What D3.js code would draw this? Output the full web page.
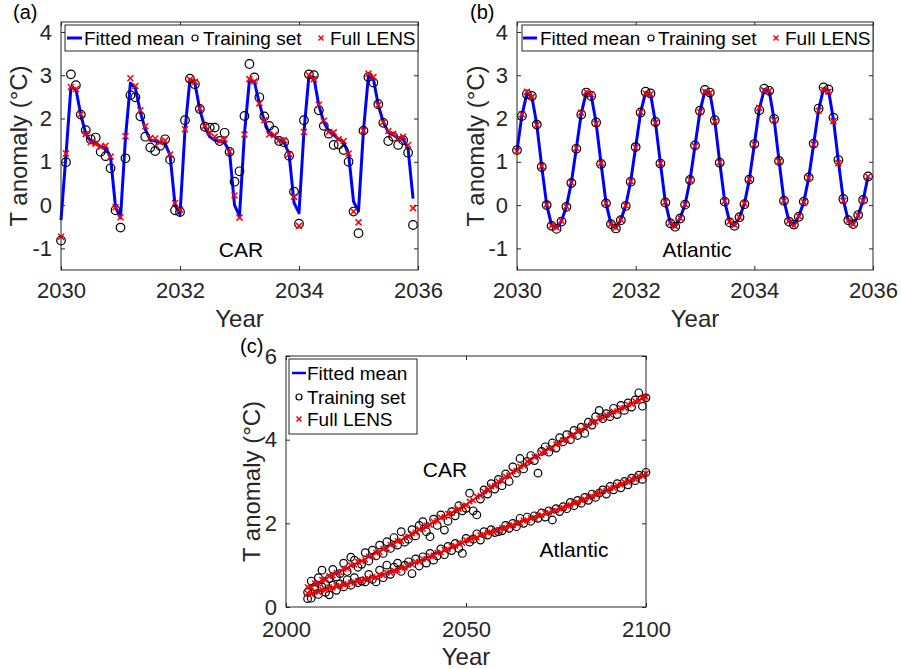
<!DOCTYPE html>
<html><head><meta charset="utf-8">
<script src="https://cdn.jsdelivr.net/npm/d3@7"></script>
<style>
html,body{margin:0;padding:0;background:#fff;}
svg text{font-family:"Liberation Sans",Arial,Helvetica,sans-serif;}
</style></head>
<body><svg id="chart" width="901" height="669"></svg>
<script>
// ---------- DATA ----------
// Panels (a),(b): monthly values Jan 2030 .. Dec 2035
const monthStart = 2030;
const carFit = [
 -0.35,1.15,2.72,2.68,2.08,1.65,1.47,1.42,1.35,1.33,1.10,-0.05,
 -0.30,1.55,2.82,2.70,2.15,1.75,1.50,1.48,1.44,1.42,1.15,0.00,
 -0.22,1.72,2.90,2.82,2.20,1.80,1.58,1.50,1.48,1.45,1.22,0.00,
 -0.25,1.65,2.88,2.85,2.35,1.95,1.65,1.60,1.50,1.45,1.18,0.05,
 -0.18,1.70,2.98,2.95,2.30,1.92,1.70,1.62,1.52,1.45,1.18,0.08,
 -0.14,1.72,2.98,2.92,2.30,1.92,1.68,1.62,1.55,1.52,1.30,0.15];
const carTrain = [
 -0.82,0.99,3.02,2.77,2.09,1.73,1.52,1.56,1.23,1.13,0.85,-0.12,
 -0.52,1.08,2.54,2.49,2.05,1.58,1.33,1.25,1.37,1.52,1.05,-0.12,
 -0.16,1.96,2.92,2.79,2.22,1.81,1.79,1.79,1.48,1.67,1.23,0.54,
 0.78,2.06,3.26,2.95,2.49,2.05,1.83,1.72,1.48,1.45,1.14,0.31,
 -0.43,1.96,3.02,3.00,2.19,1.83,1.65,1.39,1.40,1.27,1.00,-0.15,
 -0.65,1.72,2.96,2.83,2.33,1.90,1.48,1.58,1.39,1.50,1.21,-0.46];
const carLens = [
 -0.73,1.19,2.73,2.68,2.10,1.64,1.45,1.42,1.35,1.37,1.12,-0.05,
 -0.28,1.59,2.93,2.75,2.19,1.82,1.55,1.54,1.45,1.49,1.17,0.05,
 -0.10,1.75,2.90,2.85,2.23,1.83,1.68,1.58,1.48,1.52,1.24,0.22,
 -0.29,1.63,2.91,2.86,2.35,1.96,1.63,1.62,1.50,1.50,1.18,0.19,
 -0.48,1.69,3.00,2.91,2.32,1.95,1.69,1.68,1.52,1.48,1.19,-0.15,
 -0.40,1.72,3.04,2.96,2.31,1.92,1.71,1.65,1.54,1.58,1.39,-0.07];
const atlFitM = [
 1.26,2.08,2.58,2.51,1.86,0.89,0.01,-0.47,-0.53,-0.37,-0.03,0.52,
 1.31,2.12,2.60,2.54,1.90,0.96,0.05,-0.44,-0.53,-0.34,-0.01,0.55,
 1.34,2.14,2.60,2.57,1.91,0.97,0.07,-0.41,-0.50,-0.30,0.02,0.58,
 1.37,2.16,2.64,2.60,1.95,0.99,0.09,-0.39,-0.47,-0.28,0.03,0.60,
 1.40,2.22,2.67,2.64,1.98,1.02,0.10,-0.37,-0.46,-0.26,0.07,0.63,
 1.41,2.20,2.69,2.65,1.98,1.01,0.12,-0.36,-0.44,-0.24,0.11,0.66];
const atlTrainM = [
 1.27,2.06,2.56,2.52,1.86,0.88,0.00,-0.48,-0.55,-0.38,-0.04,0.51,
 1.30,2.09,2.60,2.52,1.91,0.95,0.04,-0.44,-0.54,-0.35,-0.02,0.54,
 1.34,2.14,2.62,2.58,1.92,0.96,0.06,-0.42,-0.50,-0.31,0.01,0.58,
 1.38,2.18,2.66,2.60,1.96,0.98,0.08,-0.40,-0.48,-0.28,0.02,0.59,
 1.41,2.19,2.69,2.64,1.99,1.02,0.10,-0.38,-0.45,-0.27,0.08,0.64,
 1.42,2.23,2.72,2.67,2.02,1.04,0.14,-0.35,-0.44,-0.23,0.12,0.66];
const atlLensM = [
 1.25,2.10,2.62,2.50,1.85,0.90,0.01,-0.47,-0.52,-0.36,-0.03,0.52,
 1.32,2.14,2.62,2.56,1.88,0.97,0.05,-0.44,-0.52,-0.34,-0.01,0.55,
 1.33,2.15,2.58,2.56,1.90,0.97,0.07,-0.41,-0.49,-0.30,0.02,0.58,
 1.36,2.15,2.62,2.59,1.93,0.99,0.09,-0.38,-0.46,-0.28,0.04,0.60,
 1.40,2.25,2.65,2.64,1.96,1.01,0.10,-0.37,-0.47,-0.26,0.07,0.63,
 1.40,2.18,2.66,2.62,1.94,0.97,0.10,-0.36,-0.44,-0.24,0.10,0.66];

// Panel (c): annual values 2006 .. 2100
const yearStart = 2006;
const carFitY = [
 0.45,0.50,0.54,0.58,0.63,0.67,0.72,0.76,0.80,0.85,
 0.89,0.93,0.98,1.02,1.06,1.11,1.15,1.19,1.24,1.28,
 1.33,1.37,1.42,1.47,1.51,1.56,1.60,1.65,1.70,1.74,
 1.79,1.84,1.88,1.93,1.98,2.02,2.07,2.12,2.16,2.21,
 2.26,2.30,2.35,2.40,2.44,2.50,2.56,2.62,2.68,2.74,
 2.80,2.86,2.92,2.98,3.04,3.10,3.16,3.22,3.28,3.34,
 3.40,3.46,3.52,3.57,3.62,3.67,3.72,3.77,3.82,3.87,
 3.92,3.97,4.02,4.08,4.13,4.18,4.24,4.29,4.34,4.40,
 4.45,4.49,4.53,4.57,4.61,4.65,4.69,4.74,4.78,4.82,
 4.86,4.90,4.94,4.98,5.03];
const carLensY = [
 0.48,0.47,0.57,0.56,0.65,0.66,0.74,0.75,0.82,0.83,
 0.91,0.92,1.00,1.01,1.08,1.10,1.13,1.21,1.22,1.30,
 1.31,1.39,1.40,1.49,1.50,1.58,1.58,1.67,1.68,1.76,
 1.78,1.86,1.87,1.95,1.96,2.04,2.06,2.14,2.15,2.23,
 2.24,2.32,2.34,2.41,2.43,2.52,2.55,2.64,2.66,2.76,
 2.79,2.88,2.90,3.00,3.02,3.12,3.15,3.24,3.26,3.36,
 3.38,3.48,3.50,3.59,3.60,3.69,3.71,3.79,3.80,3.89,
 3.90,3.99,4.00,4.10,4.11,4.20,4.23,4.31,4.32,4.42,
 4.43,4.51,4.52,4.59,4.60,4.67,4.68,4.76,4.76,4.84,
 4.85,4.92,4.93,5.00,5.02];
const carTrainY = [
 0.35,0.62,0.48,0.70,0.88,0.55,0.68,0.90,0.72,0.80,
 1.05,0.85,1.19,1.12,0.95,1.02,1.30,1.10,1.36,1.22,
 1.48,1.28,1.56,1.40,1.66,1.48,1.80,1.55,1.62,1.85,
 1.70,1.95,2.04,1.80,1.68,2.10,1.95,2.20,1.84,2.05,
 2.28,2.18,2.42,2.30,2.36,2.72,2.30,2.20,2.58,2.80,
 2.70,2.95,2.82,3.05,2.90,3.18,3.00,3.35,3.20,3.55,
 3.30,3.48,3.62,3.50,3.20,3.72,3.83,3.70,3.92,3.80,
 4.05,3.95,4.12,4.00,4.22,4.10,4.30,4.15,4.42,4.35,
 4.55,4.70,4.50,4.62,4.55,4.75,4.60,4.82,4.70,4.88,
 4.78,4.95,5.12,4.80,5.00];
const atlFitY = [
 0.30,0.32,0.35,0.37,0.40,0.42,0.45,0.47,0.49,0.51,
 0.53,0.55,0.57,0.59,0.61,0.63,0.65,0.68,0.70,0.72,
 0.75,0.77,0.80,0.83,0.85,0.88,0.92,0.95,0.99,1.02,
 1.06,1.09,1.13,1.16,1.20,1.24,1.28,1.31,1.35,1.39,
 1.43,1.47,1.50,1.54,1.58,1.61,1.64,1.67,1.70,1.73,
 1.76,1.79,1.82,1.84,1.87,1.90,1.93,1.96,1.99,2.02,
 2.05,2.08,2.11,2.14,2.17,2.20,2.23,2.26,2.28,2.31,
 2.34,2.37,2.40,2.44,2.47,2.51,2.54,2.58,2.61,2.65,
 2.68,2.72,2.75,2.79,2.82,2.86,2.89,2.93,2.97,3.00,
 3.04,3.07,3.11,3.14,3.18];
const atlLensY = [
 0.33,0.31,0.37,0.36,0.42,0.41,0.47,0.46,0.51,0.50,
 0.55,0.54,0.59,0.58,0.63,0.62,0.67,0.67,0.72,0.71,
 0.77,0.76,0.82,0.82,0.87,0.87,0.94,0.94,1.01,1.01,
 1.08,1.08,1.15,1.15,1.22,1.23,1.30,1.30,1.37,1.38,
 1.45,1.46,1.52,1.53,1.60,1.60,1.66,1.66,1.72,1.72,
 1.78,1.78,1.84,1.83,1.89,1.89,1.95,1.95,2.01,2.01,
 2.07,2.07,2.13,2.13,2.19,2.19,2.25,2.25,2.30,2.30,
 2.36,2.36,2.42,2.43,2.49,2.50,2.56,2.57,2.63,2.64,
 2.70,2.71,2.77,2.78,2.84,2.85,2.91,2.92,2.99,2.99,
 3.06,3.06,3.13,3.13,3.19];
const atlTrainY = [
 0.20,0.21,0.42,0.30,0.48,0.35,0.29,0.52,0.40,0.55,
 0.48,0.65,0.52,0.70,0.58,0.62,0.60,0.78,0.66,0.60,
 0.88,0.70,1.00,0.78,0.95,1.05,0.85,1.00,1.08,0.80,
 1.15,0.98,1.20,1.05,1.28,1.12,1.22,1.39,1.25,1.45,
 1.35,1.52,1.40,1.28,1.64,1.55,1.62,1.75,1.60,1.80,
 1.72,1.85,1.78,1.80,1.82,1.95,1.88,2.00,1.92,2.12,
 2.00,2.15,2.05,2.18,2.12,2.25,2.15,2.30,2.08,2.35,
 2.28,2.40,2.35,2.50,2.42,2.55,2.48,2.62,2.55,2.70,
 2.62,2.72,2.80,2.70,2.88,2.80,2.95,2.85,3.00,2.92,
 3.08,3.02,3.15,3.05,3.22];

// ticks & labels
const xTicksAB = [2030, 2032, 2034, 2036];
const yTicksAB = [-1, 0, 1, 2, 3, 4];
const xTicksC = [2000, 2050, 2100];
const yTicksC = [0, 2, 4, 6];
const legendLabels = ["Fitted mean", "Training set", "Full LENS"];
const yLabel = "T anomaly (\u00B0C)";
const xLabel = "Year";

// ---------- DRAWING ----------
const svg = d3.select("#chart");
const AX = "#262626";
const FONT = '"Liberation Sans",Arial,Helvetica,sans-serif';

function toPts(start, step, vals){ return vals.map((v,i)=>({t:start+i*step, v:v})); }

function crossPath(s){ return `M${-s},${-s}L${s},${s}M${-s},${s}L${s},${-s}`; }

function panel(o){
  const x = d3.scaleLinear().domain(o.xdom).range([o.x0, o.x1]);
  const y = d3.scaleLinear().domain(o.ydom).range([o.y1, o.y0]);
  const g = svg.append("g");
  const line = d3.line().x(d=>x(d.t)).y(d=>y(d.v));
  o.series.forEach(s=>{
    g.append("path").datum(s.fit).attr("d", line)
      .attr("fill","none").attr("stroke","#0000ff").attr("stroke-width",o.lw)
      .attr("stroke-linejoin","round");
  });
  o.series.forEach(s=>{
    g.append("g").selectAll("circle").data(s.train).join("circle")
      .attr("cx",d=>x(d.t)).attr("cy",d=>y(d.v)).attr("r",o.r)
      .attr("fill","none").attr("stroke","#000").attr("stroke-width",1.2);
  });
  o.series.forEach(s=>{
    g.append("g").selectAll("path").data(s.lens).join("path")
      .attr("transform",d=>`translate(${x(d.t)},${y(d.v)})`)
      .attr("d",crossPath(o.cs)).attr("stroke","#ff0000").attr("stroke-width",1.5)
      .attr("fill","none");
  });
  const fmt = d => String(d);
  const styleAxis = sel=>{
    sel.select(".domain").remove();
    sel.selectAll(".tick line").attr("stroke",AX);
    sel.selectAll(".tick text").attr("fill",AX).style("font-size","22px").style("font-family",FONT);
  };
  svg.append("g").attr("transform",`translate(0,${o.y1})`)
    .call(d3.axisBottom(x).tickValues(o.xt).tickFormat(fmt).tickSize(-4).tickPadding(o.xpad)).call(styleAxis);
  svg.append("g").attr("transform",`translate(0,${o.y0})`)
    .call(d3.axisTop(x).tickValues(o.xt).tickFormat("").tickSize(-4)).call(styleAxis);
  svg.append("g").attr("transform",`translate(${o.x0},0)`)
    .call(d3.axisLeft(y).tickValues(o.yt).tickFormat(fmt).tickSize(-4).tickPadding(9)).call(styleAxis);
  svg.append("g").attr("transform",`translate(${o.x1},0)`)
    .call(d3.axisRight(y).tickValues(o.yt).tickFormat("").tickSize(-4)).call(styleAxis);
  svg.append("rect").attr("x",o.x0).attr("y",o.y0).attr("width",o.x1-o.x0).attr("height",o.y1-o.y0)
    .attr("fill","none").attr("stroke",AX).attr("stroke-width",1);
  svg.append("text").attr("x",(o.x0+o.x1)/2).attr("y",o.xlabY).attr("text-anchor","middle")
    .style("font-size","24px").attr("fill",AX).text(xLabel);
  svg.append("text").attr("transform",`translate(${o.ylabX},${(o.y0+o.y1)/2}) rotate(-90)`)
    .attr("text-anchor","middle").style("font-size","24px").attr("fill",AX).text(yLabel);
  svg.append("text").attr("x",o.tagX).attr("y",o.tagY).style("font-size","20px").attr("fill","#000").text(o.tag);
  o.notes.forEach(n=>{
    svg.append("text").attr("x",n.x).attr("y",n.y).attr("text-anchor","middle")
      .style("font-size","21px").attr("fill","#000").text(n.text);
  });
  return {x,y};
}

function legendH(lx, ly, lw, items){
  const lg = svg.append("g");
  lg.append("rect").attr("x",lx).attr("y",ly).attr("width",lw).attr("height",26)
    .attr("fill","#fff").attr("stroke",AX).attr("stroke-width",1);
  const cy = ly+13;
  lg.append("line").attr("x1",items.line[0]).attr("x2",items.line[1]).attr("y1",cy).attr("y2",cy)
    .attr("stroke","#0000ff").attr("stroke-width",3);
  lg.append("circle").attr("cx",items.circ).attr("cy",cy).attr("r",3).attr("fill","none").attr("stroke","#000").attr("stroke-width",1.2);
  lg.append("path").attr("transform",`translate(${items.cross},${cy})`).attr("d",crossPath(2.5))
    .attr("stroke","#ff0000").attr("stroke-width",1.5);
  items.text.forEach((tx,i)=>{
    lg.append("text").attr("x",tx).attr("y",cy+7).style("font-size","19px").attr("fill","#000").text(legendLabels[i]);
  });
}

// Panel (a)
panel({x0:61,x1:418,y0:22,y1:270,xdom:[2030,2036],ydom:[-1.5,4.23],xt:xTicksAB,yt:yTicksAB,
  lw:3,r:4.3,cs:3,xpad:12,xlabY:327,ylabX:27,tag:"(a)",tagX:13,tagY:19,
  notes:[{x:241,y:257,text:"CAR"}],
  series:[{fit:toPts(monthStart,1/12,carFit),train:toPts(monthStart,1/12,carTrain),lens:toPts(monthStart,1/12,carLens)}]});
legendH(65,25,353,{line:[67,82],circ:195,cross:321,text:[84,203,330]});

// Panel (b)
panel({x0:517,x1:873,y0:22,y1:270,xdom:[2030,2036],ydom:[-1.5,4.23],xt:xTicksAB,yt:yTicksAB,
  lw:3,r:4.3,cs:3,xpad:12,xlabY:327,ylabX:484,tag:"(b)",tagX:470,tagY:19,
  notes:[{x:697,y:257,text:"Atlantic"}],
  series:[{fit:toPts(monthStart,1/12,atlFitM),train:toPts(monthStart,1/12,atlTrainM),lens:toPts(monthStart,1/12,atlLensM)}]});
legendH(522,25,351,{line:[523,537],circ:651,cross:776,text:[540,658,785]});

// Panel (c)
panel({x0:286,x1:646,y0:356,y1:607,xdom:[2000,2100],ydom:[0,6],xt:xTicksC,yt:yTicksC,
  lw:1.5,r:3.8,cs:2.7,xpad:14,xlabY:665,ylabX:260,tag:"(c)",tagX:240,tagY:353,
  notes:[{x:445,y:477,text:"CAR"},{x:574,y:557,text:"Atlantic"}],
  series:[{fit:toPts(yearStart,1,carFitY),train:toPts(yearStart,1,carTrainY),lens:toPts(yearStart,1,carLensY)},
          {fit:toPts(yearStart,1,atlFitY),train:toPts(yearStart,1,atlTrainY),lens:toPts(yearStart,1,atlLensY)}]});
(function(){
  const lg = svg.append("g");
  lg.append("rect").attr("x",289).attr("y",359).attr("width",128).attr("height",75)
    .attr("fill","#fff").attr("stroke",AX).attr("stroke-width",1);
  const rows=[373,397,419];
  lg.append("line").attr("x1",292).attr("x2",306).attr("y1",rows[0]).attr("y2",rows[0]).attr("stroke","#0000ff").attr("stroke-width",2.5);
  lg.append("circle").attr("cx",299).attr("cy",rows[1]).attr("r",3).attr("fill","none").attr("stroke","#000").attr("stroke-width",1.2);
  lg.append("path").attr("transform",`translate(299,${rows[2]})`).attr("d",crossPath(2.5)).attr("stroke","#ff0000").attr("stroke-width",1.5);
  rows.forEach((ry,i)=>{
    lg.append("text").attr("x",307).attr("y",ry+7).style("font-size","19px").attr("fill","#000").text(legendLabels[i]);
  });
})();
</script></body></html>
